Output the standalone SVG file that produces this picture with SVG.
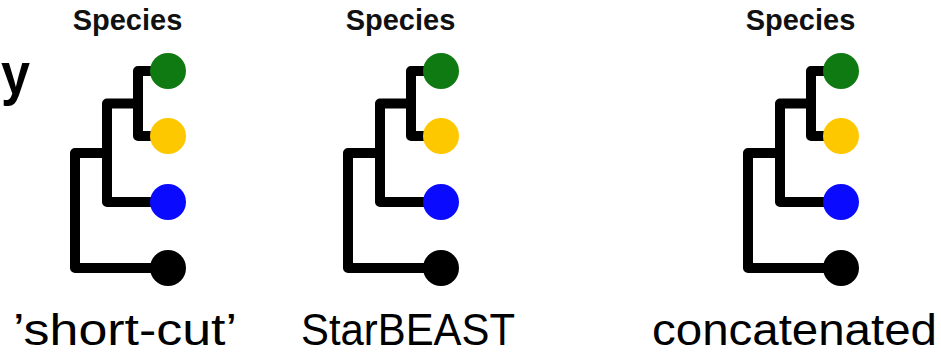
<svg xmlns="http://www.w3.org/2000/svg" width="941" height="355" viewBox="0 0 941 355">
  <style>
    .title { font-family: "Liberation Sans", Arial, sans-serif; font-weight: bold; font-size: 29px; fill: #111; text-anchor: middle; }
    .label { font-family: "Liberation Sans", Arial, sans-serif; font-size: 44px; fill: #000; }
    .branch { fill: none; stroke: #000; stroke-width: 10; stroke-linejoin: round; stroke-linecap: butt; }
    .g { fill: #0f7a12; }
    .yl { fill: #fdc800; }
    .b { fill: #0a0aff; }
    .k { fill: #000; }
  </style>
  <defs>
    <!-- branch layout of one four-taxon species tree, origin at the tips' column -->
    <g id="branches">
      <path class="branch" d="M168 71 H138 V136 H168"/>
      <path class="branch" d="M138 103.5 H107 V202 H168"/>
      <path class="branch" d="M107 153 H75 V268 H168"/>
    </g>
  </defs>

  <rect width="941" height="355" fill="#fff"/>

  <!-- clipped heading letter at the left edge -->
  <text x="1" y="94" font-family="Liberation Sans, Arial, sans-serif" font-weight="bold" font-size="60" fill="#000" textLength="29" lengthAdjust="spacingAndGlyphs">y</text>

  <!-- connectors: tree branches -->
  <g id="connectors">
    <use href="#branches"/>
    <use href="#branches" transform="translate(273 0)"/>
    <use href="#branches" transform="translate(673 0)"/>
  </g>

  <!-- tree 1 -->
  <g id="tree-shortcut">
    <text class="title" x="127.5" y="30">Species</text>
    <circle id="t1-green" class="g" cx="168" cy="71" r="18"/>
    <circle id="t1-yellow" class="yl" cx="168" cy="136" r="18"/>
    <circle id="t1-blue" class="b" cx="168" cy="202" r="18"/>
    <circle id="t1-black" class="k" cx="168" cy="268" r="18"/>
    <text class="label" x="13" y="345" textLength="224" lengthAdjust="spacingAndGlyphs">’short-cut’</text>
  </g>

  <!-- tree 2 -->
  <g id="tree-starbeast">
    <text class="title" x="400.5" y="30">Species</text>
    <circle id="t2-green" class="g" cx="441" cy="71" r="18"/>
    <circle id="t2-yellow" class="yl" cx="441" cy="136" r="18"/>
    <circle id="t2-blue" class="b" cx="441" cy="202" r="18"/>
    <circle id="t2-black" class="k" cx="441" cy="268" r="18"/>
    <text class="label" x="301" y="345" textLength="214" lengthAdjust="spacingAndGlyphs">StarBEAST</text>
  </g>

  <!-- tree 3 -->
  <g id="tree-concatenated">
    <text class="title" x="800.5" y="30">Species</text>
    <circle id="t3-green" class="g" cx="841" cy="71" r="18"/>
    <circle id="t3-yellow" class="yl" cx="841" cy="136" r="18"/>
    <circle id="t3-blue" class="b" cx="841" cy="202" r="18"/>
    <circle id="t3-black" class="k" cx="841" cy="268" r="18"/>
    <text class="label" x="652" y="345" textLength="285" lengthAdjust="spacingAndGlyphs">concatenated</text>
  </g>
</svg>
